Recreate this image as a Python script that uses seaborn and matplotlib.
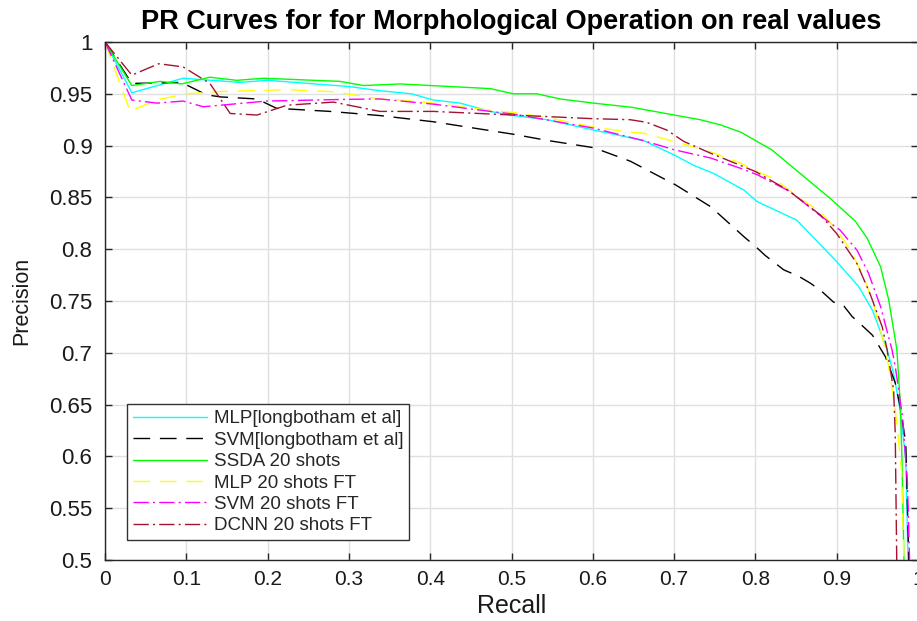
import matplotlib
matplotlib.use("Agg")
import matplotlib.pyplot as plt
import seaborn as sns
import pandas as pd

# ---------------- data ----------------
labels = ["MLP[longbotham et al]", "SVM[longbotham et al]", "SSDA 20 shots",
          "MLP 20 shots FT", "SVM 20 shots FT", "DCNN 20 shots FT"]

mlp_lb_recall = [0, 0.033, 0.096, 0.166, 0.2, 0.3, 0.338, 0.377, 0.404, 0.437, 0.474, 0.502,
                 0.544, 0.601, 0.662, 0.7, 0.724, 0.749, 0.786, 0.802, 0.851, 0.9, 0.927,
                 0.944, 0.962, 0.97, 0.978, 0.985, 0.988]
mlp_lb_precision = [1, 0.951, 0.965, 0.961, 0.963, 0.957, 0.953, 0.950, 0.944, 0.941, 0.933,
                    0.929, 0.925, 0.915, 0.905, 0.891, 0.881, 0.873, 0.857, 0.846, 0.828,
                    0.788, 0.764, 0.741, 0.703, 0.680, 0.645, 0.597, 0.49]

svm_lb_recall = [0, 0.033, 0.094, 0.125, 0.142, 0.187, 0.211, 0.277, 0.338, 0.404, 0.502,
                 0.544, 0.601, 0.646, 0.702, 0.745, 0.786, 0.801, 0.812, 0.835, 0.853, 0.868,
                 0.882, 0.896, 0.909, 0.919, 0.933, 0.944, 0.96, 0.972, 0.978, 0.985, 0.987,
                 0.989]
svm_lb_precision = [1, 0.960, 0.961, 0.949, 0.947, 0.945, 0.936, 0.933, 0.929, 0.923, 0.911,
                    0.905, 0.898, 0.885, 0.862, 0.841, 0.812, 0.802, 0.794, 0.780, 0.774,
                    0.767, 0.759, 0.749, 0.745, 0.735, 0.725, 0.717, 0.696, 0.671, 0.648,
                    0.613, 0.551, 0.49]

ssda_recall = [0, 0.033, 0.068, 0.094, 0.129, 0.162, 0.195, 0.289, 0.318, 0.363, 0.474, 0.502,
               0.531, 0.56, 0.601, 0.648, 0.7, 0.732, 0.757, 0.782, 0.802, 0.82, 0.892, 0.923,
               0.9375, 0.954, 0.964, 0.974, 0.978, 0.98, 0.983]
ssda_precision = [1, 0.958, 0.962, 0.9595, 0.966, 0.963, 0.965, 0.962, 0.958, 0.9595, 0.955,
                  0.950, 0.950, 0.945, 0.941, 0.937, 0.9295, 0.925, 0.920, 0.913, 0.904, 0.896,
                  0.849, 0.827, 0.8105, 0.783, 0.751, 0.703, 0.654, 0.606, 0.49]

mlp_ft_recall = [0, 0.031, 0.063, 0.1, 0.137, 0.224, 0.281, 0.338, 0.363, 0.404, 0.474, 0.502,
                 0.544, 0.6, 0.646, 0.662, 0.7, 0.745, 0.782, 0.802, 0.823, 0.855, 0.88, 0.9,
                 0.917, 0.933, 0.945, 0.96, 0.966, 0.972, 0.976, 0.98, 0.983]
mlp_ft_precision = [1, 0.933, 0.944, 0.950, 0.952, 0.954, 0.952, 0.945, 0.944, 0.941, 0.934,
                    0.932, 0.927, 0.918, 0.913, 0.912, 0.904, 0.894, 0.883, 0.875, 0.868,
                    0.849, 0.836, 0.8185, 0.799, 0.7735, 0.748, 0.703, 0.677, 0.645, 0.616,
                    0.584, 0.49]

svm_ft_recall = [0, 0.033, 0.064, 0.096, 0.121, 0.199, 0.301, 0.338, 0.404, 0.474, 0.502, 0.6,
                 0.646, 0.666, 0.7, 0.745, 0.782, 0.802, 0.843, 0.876, 0.904, 0.925, 0.939,
                 0.954, 0.968, 0.972, 0.981, 0.987, 0.99]
svm_ft_precision = [1, 0.944, 0.941, 0.943, 0.9375, 0.943, 0.9447, 0.945, 0.940, 0.933, 0.9305,
                    0.917, 0.908, 0.904, 0.896, 0.888, 0.878, 0.872, 0.8555, 0.8346, 0.8185,
                    0.799, 0.777, 0.7445, 0.703, 0.687, 0.638, 0.574, 0.49]

dcnn_ft_recall = [0, 0.033, 0.066, 0.096, 0.129, 0.154, 0.187, 0.224, 0.281, 0.338, 0.404,
                  0.474, 0.502, 0.6, 0.646, 0.666, 0.691, 0.712, 0.745, 0.8, 0.84, 0.88, 0.9,
                  0.925, 0.941, 0.956, 0.962, 0.970, 0.972, 0.974]
dcnn_ft_precision = [1, 0.968, 0.979, 0.976, 0.960, 0.931, 0.9295, 0.939, 0.942, 0.933, 0.933,
                     0.9305, 0.9295, 0.926, 0.925, 0.9225, 0.915, 0.904, 0.8926, 0.875, 0.857,
                     0.833, 0.815, 0.786, 0.757, 0.725, 0.703, 0.664, 0.622, 0.49]

x_ticks = [0, 0.1, 0.2, 0.3, 0.4, 0.5, 0.6, 0.7, 0.8, 0.9, 1]
x_tick_labels = ["0", "0.1", "0.2", "0.3", "0.4", "0.5", "0.6", "0.7", "0.8", "0.9", "1"]
y_ticks = [0.5, 0.55, 0.6, 0.65, 0.7, 0.75, 0.8, 0.85, 0.9, 0.95, 1]
y_tick_labels = ["0.5", "0.55", "0.6", "0.65", "0.7", "0.75", "0.8", "0.85", "0.9", "0.95", "1"]

# ---------------- styles ----------------
colors = ["#00FFFF", "#000000", "#00FF00", "#FFFF00", "#FF00FF", "#A2142F"]
dash_specs = ["", (12, 7), "", (12, 7), (11, 3, 1.5, 3), (11, 3, 1.5, 3)]

recalls = [mlp_lb_recall, svm_lb_recall, ssda_recall, mlp_ft_recall, svm_ft_recall, dcnn_ft_recall]
precisions = [mlp_lb_precision, svm_lb_precision, ssda_precision, mlp_ft_precision,
              svm_ft_precision, dcnn_ft_precision]

frames = []
for name, r, p in zip(labels, recalls, precisions):
    frames.append(pd.DataFrame({"Recall": r, "Precision": p, "series": name}))
df = pd.concat(frames, ignore_index=True)

sns.set_style("ticks")
plt.rcParams["font.family"] = ["Liberation Sans", "DejaVu Sans"]

fig = plt.figure(figsize=(9.17, 6.21), dpi=100)
ax = fig.add_axes([105 / 917, 61 / 621, 813 / 917, 518 / 621])

sns.lineplot(data=df, x="Recall", y="Precision", hue="series", style="series",
             hue_order=labels, style_order=labels,
             palette=dict(zip(labels, colors)), dashes=dict(zip(labels, dash_specs)),
             sort=False, estimator=None, linewidth=1.0, ax=ax)

ax.set_xlim(0, 1)
ax.set_ylim(0.5, 1)
ax.set_xticks(x_ticks)
ax.set_xticklabels(x_tick_labels)
ax.set_yticks(y_ticks)
ax.set_yticklabels(y_tick_labels)
ax.tick_params(direction="in", top=True, right=True, length=5, width=1,
               colors="0.15", labelcolor="0.1")
ax.tick_params(axis="y", pad=9, labelsize=16)
ax.tick_params(axis="x", pad=7, labelsize=15)
ax.grid(True, color="0.88", linewidth=1)
ax.set_axisbelow(True)
for s in ax.spines.values():
    s.set_color("0.15")
    s.set_linewidth(1)

ax.set_xlabel("Recall", fontsize=18, va="center", color="0.1")
ax.xaxis.set_label_coords(0.5, -46 / 518)
ax.set_ylabel("Precision", fontsize=15.5, va="center", color="0.1")
ax.yaxis.set_label_coords((22 - 105) / 813, 0.5)

fig.text(511 / 917, 1 - 22 / 621, "PR Curves for for Morphological Operation on real values",
         ha="center", va="center", fontsize=19.5, fontweight="bold", color="black")

handles, lbls = ax.get_legend_handles_labels()
leg = ax.legend(handles, lbls, loc="lower left", bbox_to_anchor=(22 / 813, 20 / 518),
                borderaxespad=0, fancybox=False, edgecolor="0.2", framealpha=1,
                handlelength=3.95, handletextpad=0.38, labelspacing=0.23, fontsize=13.5,
                borderpad=0.3)
leg.get_frame().set_linewidth(1)

fig.savefig("out.png", dpi=100)
